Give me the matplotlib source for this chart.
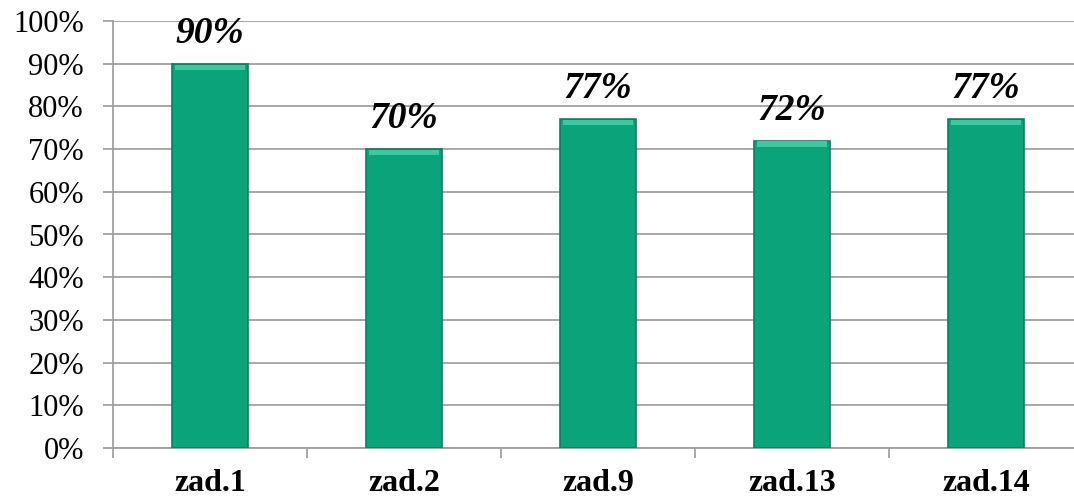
import matplotlib
matplotlib.use("Agg")
import matplotlib.pyplot as plt
import numpy as np

categories = ["zad.1", "zad.2", "zad.9", "zad.13", "zad.14"]
values = [90, 70, 77, 72, 77]
labels = ["90%", "70%", "77%", "72%", "77%"]

plt.rcParams['font.family'] = ['Liberation Serif', 'DejaVu Serif']

fig = plt.figure(figsize=(10.74, 4.99), dpi=100)
ax = fig.add_axes([113 / 1074, 1 - 448 / 499, 970 / 1074, 427 / 499])

x = np.arange(len(categories))
w = 0.39
bar_color = "#0aa37a"

# main bars
ax.bar(x, values, width=w, color=bar_color, edgecolor="#0a7f5f", linewidth=1.2, zorder=3)
# light bevel on top
ax.bar(x, [1.2] * len(x), width=w * 0.92, bottom=[v - 1.4 for v in values],
       color="#3cc99f", linewidth=0, zorder=4)

for xi, v, lab in zip(x, values, labels):
    ax.text(xi, v + 3.0, lab, ha="center", va="bottom", fontsize=27,
            fontweight="bold", fontstyle="italic", zorder=5)

ax.set_xlim(-0.5, len(categories) - 0.5)
ax.set_ylim(0, 100)
ax.set_yticks(range(0, 101, 10))
ax.set_yticklabels([f"{t}%" for t in range(0, 101, 10)], fontsize=22)
ax.yaxis.grid(True, color="#a0a0a0", linewidth=1.3, zorder=0)

ax.set_xticks(np.arange(-0.5, len(categories), 1.0))
ax.set_xticklabels([])
ax.set_xticks(x, minor=True)
ax.set_xticklabels(categories, minor=True, fontsize=23, fontweight="bold")
ax.tick_params(axis="x", which="minor", length=0, pad=15)
ax.tick_params(axis="x", which="major", length=7, width=1.3, color="#a0a0a0", direction="out")
ax.tick_params(axis="y", length=7, width=1.3, color="#a0a0a0", pad=14)

for s in ["top", "right"]:
    ax.spines[s].set_visible(False)
for s in ["left", "bottom"]:
    ax.spines[s].set_color("#a0a0a0")
    ax.spines[s].set_linewidth(1.3)

fig.savefig("out.png", dpi=100)
